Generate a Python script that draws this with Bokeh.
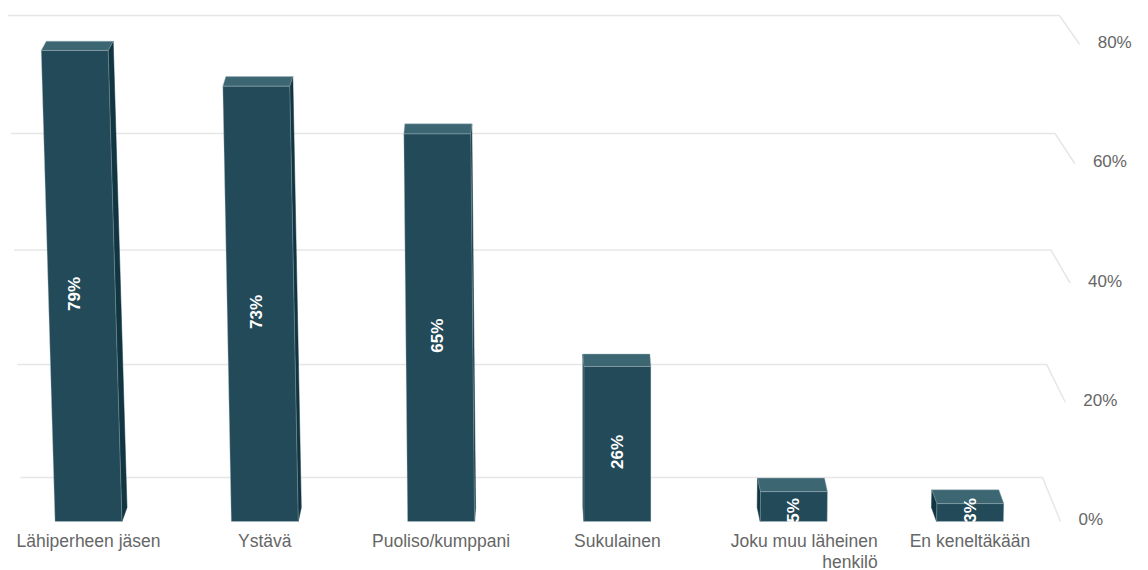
import numpy as np
from bokeh.plotting import figure
from bokeh.models import Range1d
from bokeh.embed import file_html
from bokeh.resources import INLINE
from bokeh.core.properties import value

# ---------------- data ----------------
categories = ["Lähiperheen jäsen", "Ystävä", "Puoliso/kumppani", "Sukulainen",
              "Joku muu läheinen\nhenkilö", "En keneltäkään"]
values = [79, 73, 65, 26, 5, 3]
value_labels = ["79%", "73%", "65%", "26%", "5%", "3%"]
tick_values = [0, 20, 40, 60, 80]
tick_labels = ["0%", "20%", "40%", "60%", "80%"]

# ---------------- projection / style parameters ----------------
W, H = 1148, 570
X0_PX, SLOT_PX = 88.0, 176.3      # first category centre, category spacing (px)
Y0_PX, UNIT_PX = 521.0, 5.9625    # zero line (front plane) and px per 1 %

x_start = -X0_PX / SLOT_PX
x_end = x_start + W / SLOT_PX
y_end = Y0_PX / UNIT_PX
y_start = y_end - H / UNIT_PX


def dx(px):
    return px / SLOT_PX


def dy(px):
    return px / UNIT_PX


def xpx(px):
    return x_start + px / SLOT_PX


def ypx(px):
    return y_end - px / UNIT_PX


FRONT = "#234a59"
TOP = "#3c6672"
SIDE = "#113541"
GRID = "#e6e6e6"
TEXT = "#666666"
FONT = value("Liberation Sans")

p = figure(width=W, height=H, x_range=Range1d(x_start, x_end), y_range=Range1d(y_start, y_end),
           output_backend="svg", toolbar_location=None, x_axis_type=None, y_axis_type=None,
           min_border=0, title=None)
p.outline_line_color = None
p.background_fill_color = "white"
p.border_fill_color = "white"

# ---------------- back wall grid lines with perspective connector ----------------
gxs, gys = [], []
for v in tick_values:
    yb = 477 - 5.6 * v - 0.0022 * v * v
    left = 20 - 0.16 * v
    rb = 1042 + 0.21 * v
    fr = 1060 + 0.24 * v
    gxs.append([xpx(left), xpx(rb), xpx(fr)])
    gys.append([ypx(yb), ypx(yb), v])
p.multi_line(gxs, gys, line_color=GRID, line_width=1.5)

# ---------------- 3D columns ----------------
HALF = dx(33.5)
LEAN = 3.3e-4
fx, fy, tx, ty, sx, sy = [], [], [], [], [], []
lab_x, lab_y = [], []
for i, v in enumerate(values):
    lean = LEAN * (i - 3) * v
    xl0, xr0 = i - HALF, i + HALF
    xl1, xr1 = xl0 + lean, xr0 + lean
    d_top = dy(14 - 0.06 * v)
    d_bot = dy(14)
    ddx = dx(-2 * (i - 2.5))
    fx.append([xl0, xr0, xr1, xl1])
    fy.append([0, 0, v, v])
    tx.append([xl1, xr1, xr1 + ddx, xl1 + ddx])
    ty.append([v, v, v + d_top, v + d_top])
    if ddx >= 0:
        sx.append([xr0, xr1, xr1 + ddx, xr0 + ddx])
    else:
        sx.append([xl0, xl1, xl1 + ddx, xl0 + ddx])
    sy.append([0, v, v + d_top, d_bot])
    lab_x.append(i + lean)
    # label centred in the column, kept above the floor for short columns
    lab_y.append(max(v / 2 - dy(8), dy(11)))

p.patches(sx, sy, fill_color=SIDE, line_color=SIDE, line_width=0.5)
p.patches(tx, ty, fill_color=TOP, line_color="#9fb6bd", line_width=0.6, line_alpha=0.7)
p.patches(fx, fy, fill_color=FRONT, line_color="#b8c9ce", line_width=0.6, line_alpha=0.6)

# value labels (rotated, inside bars)
p.text(x=lab_x, y=lab_y, text=value_labels, angle=np.pi / 2, text_align="center",
       text_baseline="middle", text_color="white", text_font=FONT, text_font_size="17px",
       text_font_style="bold")

# clip label overflow below the plot floor
idx = np.arange(len(values))
p.quad(left=idx - HALF - dx(8), right=idx + HALF + dx(8), bottom=-dy(10), top=-dy(0.6),
       fill_color="white", line_color=None)

# ---------------- category labels ----------------
cat_y = ypx(530)
center_idx = [i for i, c in enumerate(categories) if "\n" not in c]
right_idx = [i for i, c in enumerate(categories) if "\n" in c]
p.text(x=[float(i) for i in center_idx], y=[cat_y] * len(center_idx),
       text=[categories[i] for i in center_idx], text_align="center", text_baseline="top",
       text_color=TEXT, text_font=FONT, text_font_size="17.5px")
p.text(x=[float(i) for i in right_idx], y=[cat_y] * len(right_idx),
       text=[categories[i] for i in right_idx], text_align="right", text_baseline="top",
       x_offset=84, text_color=TEXT, text_font=FONT, text_font_size="17.5px",
       text_line_height=1.05)

# ---------------- value-axis tick labels (right side, perspective) ----------------
tick_x = [xpx(1060 + 0.24 * v + 18) for v in tick_values]
tick_y = [v + dy(2) for v in tick_values]
p.text(x=tick_x, y=tick_y, text=tick_labels, text_align="left", text_baseline="middle",
       text_color=TEXT, text_font=FONT, text_font_size="17px")

open("out.html", "w").write(file_html(p, INLINE))
